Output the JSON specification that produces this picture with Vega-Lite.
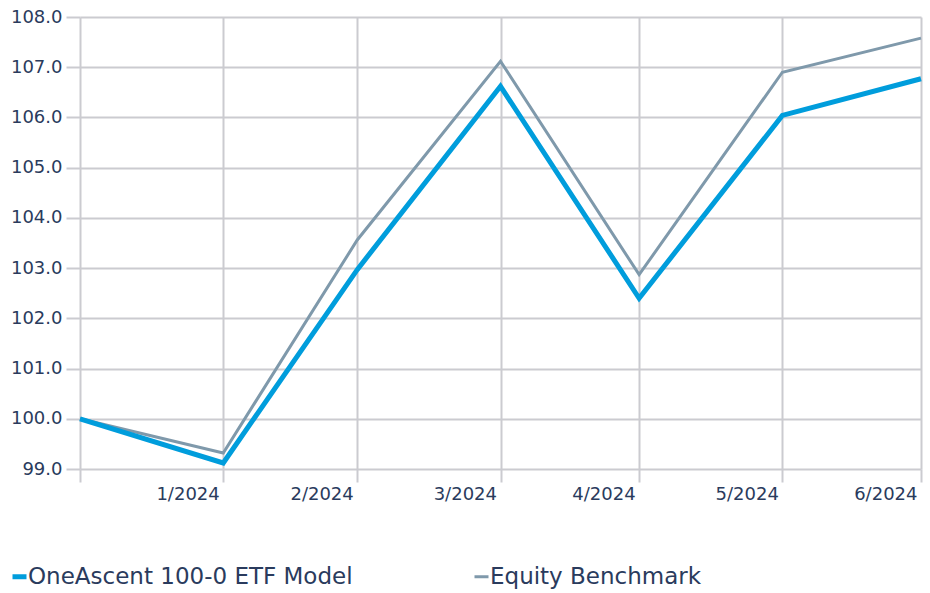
{
  "$schema": "https://vega.github.io/schema/vega-lite/v6.json",
  "width": 841,
  "height": 452,
  "autosize": {"type": "none"},
  "padding": {"left": 80, "top": 17, "right": 9, "bottom": 124},
  "background": "white",
  "config": {
    "font": "DejaVu Sans",
    "view": {"stroke": null}
  },
  "data": {
    "values": [
      {"date": "2023-12-31", "series": "Equity Benchmark", "value": 100.0},
      {"date": "2024-01-31", "series": "Equity Benchmark", "value": 99.32},
      {"date": "2024-02-29", "series": "Equity Benchmark", "value": 103.56},
      {"date": "2024-03-31", "series": "Equity Benchmark", "value": 107.12},
      {"date": "2024-04-30", "series": "Equity Benchmark", "value": 102.87},
      {"date": "2024-05-31", "series": "Equity Benchmark", "value": 106.9},
      {"date": "2024-06-30", "series": "Equity Benchmark", "value": 107.58},
      {"date": "2023-12-31", "series": "OneAscent 100-0 ETF Model", "value": 100.0},
      {"date": "2024-01-31", "series": "OneAscent 100-0 ETF Model", "value": 99.12},
      {"date": "2024-02-29", "series": "OneAscent 100-0 ETF Model", "value": 102.97},
      {"date": "2024-03-31", "series": "OneAscent 100-0 ETF Model", "value": 106.62},
      {"date": "2024-04-30", "series": "OneAscent 100-0 ETF Model", "value": 102.4},
      {"date": "2024-05-31", "series": "OneAscent 100-0 ETF Model", "value": 106.04},
      {"date": "2024-06-30", "series": "OneAscent 100-0 ETF Model", "value": 106.77}
    ]
  },
  "mark": {"type": "line", "strokeJoin": "miter"},
  "encoding": {
    "x": {
      "field": "date",
      "type": "temporal",
      "scale": {"type": "utc", "nice": false},
      "axis": {
        "title": null,
        "domain": false,
        "values": [
          {"year": 2023, "month": 12, "date": 31, "utc": true},
          {"year": 2024, "month": 1, "date": 31, "utc": true},
          {"year": 2024, "month": 2, "date": 29, "utc": true},
          {"year": 2024, "month": 3, "date": 31, "utc": true},
          {"year": 2024, "month": 4, "date": 30, "utc": true},
          {"year": 2024, "month": 5, "date": 31, "utc": true},
          {"year": 2024, "month": 6, "date": 30, "utc": true}
        ],
        "labelExpr": "utcFormat(datum.value, '%Y') == '2023' ? '' : utcFormat(datum.value, '%-m/%Y')",
        "labelAlign": "right",
        "labelOffset": -4,
        "labelFlush": false,
        "labelOverlap": false,
        "labelPadding": 3,
        "labelFontSize": 18,
        "labelColor": "#2a3b5d",
        "tickSize": 13,
        "tickColor": "#cbcbd0",
        "tickWidth": 2,
        "grid": true,
        "gridColor": "#cbcbd0",
        "gridWidth": 2
      }
    },
    "y": {
      "field": "value",
      "type": "quantitative",
      "scale": {"domain": [99, 108], "nice": false, "zero": false},
      "axis": {
        "title": null,
        "domain": false,
        "values": [99, 100, 101, 102, 103, 104, 105, 106, 107, 108],
        "format": ".1f",
        "labelPadding": 4,
        "labelFontSize": 18,
        "labelColor": "#2a3b5d",
        "tickSize": 14,
        "tickColor": "#cbcbd0",
        "tickWidth": 2,
        "grid": true,
        "gridColor": "#cbcbd0",
        "gridWidth": 2
      }
    },
    "color": {
      "field": "series",
      "type": "nominal",
      "scale": {
        "domain": ["OneAscent 100-0 ETF Model", "Equity Benchmark"],
        "range": ["#009ddc", "#7f99ab"]
      },
      "legend": {
        "title": null,
        "orient": "none",
        "legendX": -72,
        "legendY": 548,
        "direction": "horizontal",
        "columns": 2,
        "columnPadding": 115,
        "symbolType": "stroke",
        "symbolStrokeWidth": 5,
        "symbolSize": 196,
        "labelFontSize": 23,
        "labelColor": "#2a3b5d",
        "labelOffset": -3,
        "labelLimit": 500
      }
    },
    "strokeWidth": {
      "field": "series",
      "type": "nominal",
      "scale": {
        "domain": ["OneAscent 100-0 ETF Model", "Equity Benchmark"],
        "range": [5, 3]
      },
      "legend": null
    }
  }
}
